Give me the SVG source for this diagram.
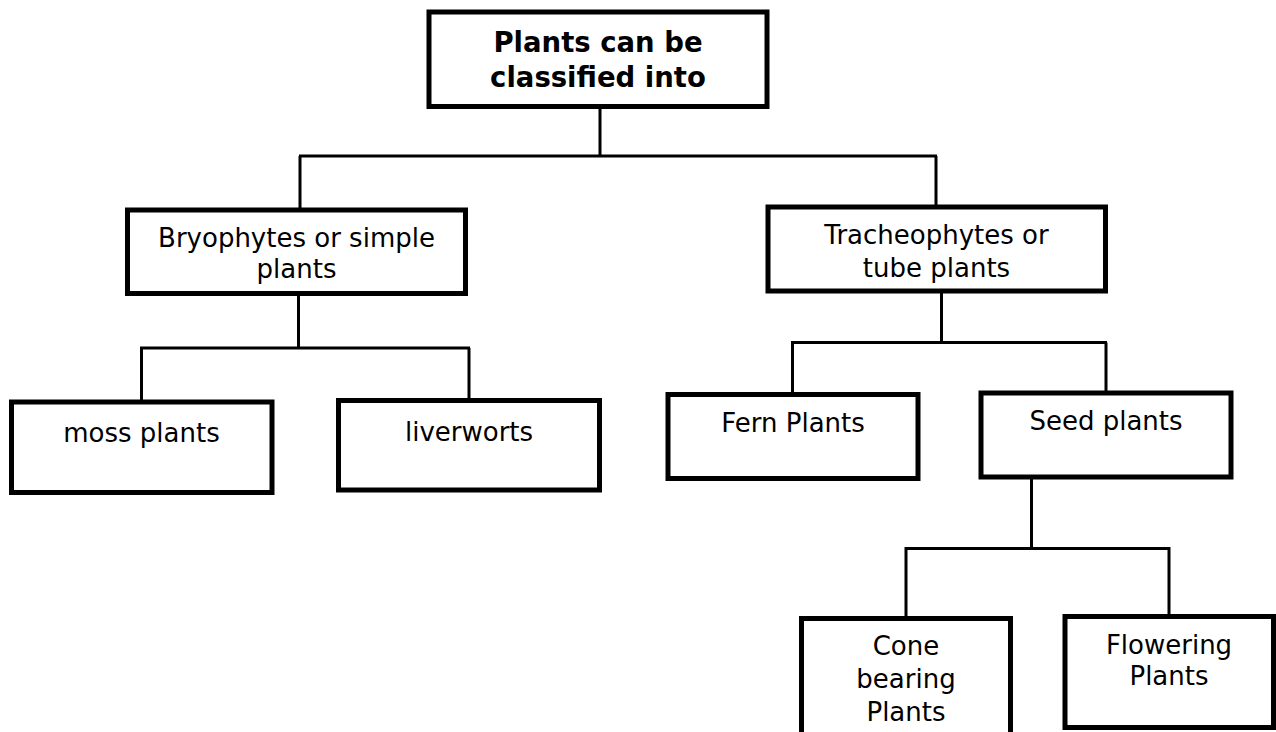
<svg xmlns="http://www.w3.org/2000/svg" width="1276" height="732" viewBox="0 0 1276 732">
<style>
.box{fill:#fff;stroke:#000;stroke-width:5}
.ln{fill:none;stroke:#000;stroke-width:3}
text{font-family:"DejaVu Sans","Liberation Sans",sans-serif;font-size:26px;fill:#000;text-anchor:middle}
.b{font-weight:bold;font-size:27.5px}
</style>
<rect width="1276" height="732" fill="#fff"/>
<g id="connectors">
<path class="ln" d="M600,106 V156 M299,156 H937 M300,156 V210 M936,156 V207"/>
<path class="ln" d="M298.5,293 V348 M140,348 H470 M141.5,348 V402 M469,348 V400"/>
<path class="ln" d="M941.5,291 V342.5 M791,342.5 H1107 M792.5,342.5 V394.5 M1106,342.5 V393"/>
<path class="ln" d="M1031.5,477 V548.5 M904.5,548.5 H1170.5 M906,548.5 V618.5 M1169,548.5 V616.5"/>
</g>
<g id="root">
<rect class="box" x="429" y="12" width="338" height="94.5"/>
<text class="b" x="598" y="52">Plants can be</text>
<text class="b" x="598" y="87">classified into</text>
</g>
<g id="bryophytes">
<rect class="box" x="127.5" y="210" width="338" height="83.5"/>
<text x="296.5" y="247">Bryophytes or simple</text>
<text x="296.5" y="278">plants</text>
</g>
<g id="tracheophytes">
<rect class="box" x="768" y="207" width="337.5" height="84"/>
<text x="936.5" y="243.5">Tracheophytes or</text>
<text x="936.5" y="276.5">tube plants</text>
</g>
<g id="moss">
<rect class="box" x="11.5" y="402" width="260.5" height="90.5"/>
<text x="141.5" y="441.5">moss plants</text>
</g>
<g id="liverworts">
<rect class="box" x="338.5" y="400.5" width="261" height="89.5"/>
<text x="469" y="441">liverworts</text>
</g>
<g id="fern">
<rect class="box" x="668" y="394.5" width="250" height="84"/>
<text x="793" y="431.5">Fern Plants</text>
</g>
<g id="seed">
<rect class="box" x="981" y="393" width="250" height="84"/>
<text x="1106" y="430">Seed plants</text>
</g>
<g id="cone">
<rect class="box" x="801.5" y="618.5" width="209" height="120"/>
<text x="906" y="655">Cone</text>
<text x="906" y="688">bearing</text>
<text x="906" y="721">Plants</text>
</g>
<g id="flowering">
<rect class="box" x="1065" y="616.5" width="208.5" height="111"/>
<text x="1169" y="654">Flowering</text>
<text x="1169" y="685">Plants</text>
</g>
</svg>
